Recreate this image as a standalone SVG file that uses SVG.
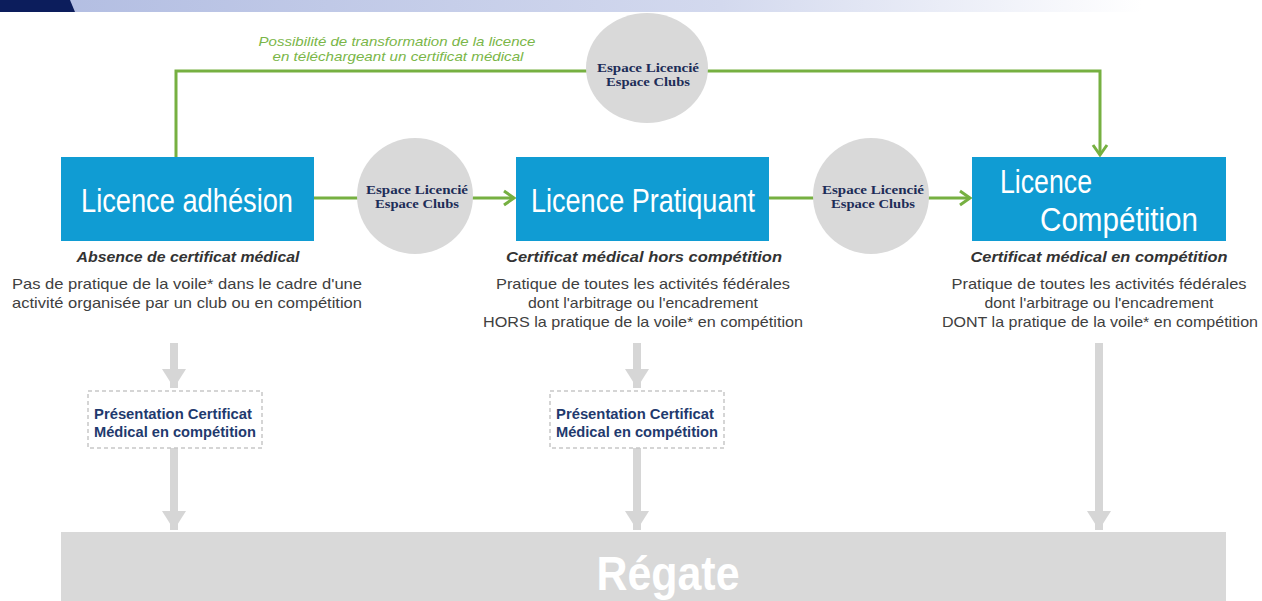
<svg xmlns="http://www.w3.org/2000/svg" width="1262" height="601" viewBox="0 0 1262 601">
<defs>
<linearGradient id="hdr" x1="0" y1="0" x2="1" y2="0">
<stop offset="0" stop-color="#b3bee2"/>
<stop offset="0.55" stop-color="#d3d9ee"/>
<stop offset="0.9" stop-color="#ffffff"/>
</linearGradient>
<marker id="ga" markerUnits="userSpaceOnUse" markerWidth="16" markerHeight="18" refX="12" refY="9" orient="auto">
<path d="M2,2 L12,9 L2,16" fill="none" stroke="#76b041" stroke-width="3"/>
</marker>
<marker id="gr" markerUnits="userSpaceOnUse" markerWidth="20" markerHeight="24" refX="19" refY="12" orient="auto">
<path d="M0,0 L19,12 L0,24 z" fill="#d6d6d6"/>
</marker>
<style>
.box{fill:#109cd3}
.bt{font-family:"Liberation Sans",Arial,sans-serif;fill:#ffffff;font-size:33px}
.circ{fill:#d9d9d9}
.ct{font-family:"Liberation Serif","Times New Roman",serif;font-weight:bold;font-size:13px;fill:#1d2d58;text-anchor:middle}
.sub{font-family:"Liberation Sans",Arial,sans-serif;font-weight:bold;font-style:italic;font-size:15px;fill:#333333;text-anchor:middle}
.desc{font-family:"Liberation Sans",Arial,sans-serif;font-size:15px;fill:#404040;text-anchor:middle}
.cap{font-family:"Liberation Sans",Arial,sans-serif;font-style:italic;font-size:13px;fill:#7ab648;text-anchor:middle}
.green{fill:none;stroke:#76b041;stroke-width:3}
.gray{fill:none;stroke:#d6d6d6;stroke-width:8}
.dash{fill:#ffffff;stroke:#c8c8c8;stroke-width:1.5;stroke-dasharray:4 3}
.dt{font-family:"Liberation Sans",Arial,sans-serif;font-weight:bold;font-size:14px;fill:#1f3a6e}
.reg{fill:#d9d9d9}
.rt{font-family:"Liberation Sans",Arial,sans-serif;font-weight:bold;font-size:48px;fill:#ffffff;text-anchor:middle}
</style>
</defs>
<rect width="1262" height="601" fill="#ffffff"/>
<g id="header">
<rect x="60" y="0" width="1202" height="12" fill="url(#hdr)"/>
<polygon points="0,0 70,0 75,12 0,12" fill="#0c1d5c"/>
</g>
<g id="connectors">
<polyline class="green" points="176,157 176,71 1100,71 1100,155" marker-end="url(#ga)"/>
<line class="green" x1="314" y1="198" x2="514" y2="198" marker-end="url(#ga)"/>
<line class="green" x1="769" y1="198" x2="970" y2="198" marker-end="url(#ga)"/>
<line class="gray" x1="174" y1="343" x2="174" y2="388" marker-end="url(#gr)"/>
<line class="gray" x1="174" y1="448" x2="174" y2="530" marker-end="url(#gr)"/>
<line class="gray" x1="637" y1="343" x2="637" y2="388" marker-end="url(#gr)"/>
<line class="gray" x1="637" y1="448" x2="637" y2="530" marker-end="url(#gr)"/>
<line class="gray" x1="1099" y1="343" x2="1099" y2="530" marker-end="url(#gr)"/>
</g>
<g id="caption">
<text class="cap" x="397" y="46" textLength="277" lengthAdjust="spacingAndGlyphs">Possibilité de transformation de la licence</text>
<text class="cap" x="398" y="61" textLength="251" lengthAdjust="spacingAndGlyphs">en téléchargeant un certificat médical</text>
</g>
<g id="espace-top">
<ellipse class="circ" cx="647" cy="68" rx="61" ry="55"/>
<text class="ct" x="648" y="72" textLength="102" lengthAdjust="spacingAndGlyphs">Espace Licencié</text>
<text class="ct" x="648" y="86" textLength="84" lengthAdjust="spacingAndGlyphs">Espace Clubs</text>
</g>
<g id="espace-1">
<circle class="circ" cx="415" cy="196" r="58"/>
<text class="ct" x="417" y="194" textLength="102" lengthAdjust="spacingAndGlyphs">Espace Licencié</text>
<text class="ct" x="417" y="208" textLength="84" lengthAdjust="spacingAndGlyphs">Espace Clubs</text>
</g>
<g id="espace-2">
<circle class="circ" cx="871" cy="196" r="58"/>
<text class="ct" x="873" y="194" textLength="102" lengthAdjust="spacingAndGlyphs">Espace Licencié</text>
<text class="ct" x="873" y="208" textLength="84" lengthAdjust="spacingAndGlyphs">Espace Clubs</text>
</g>
<g id="licence-adhesion">
<rect class="box" x="61" y="157" width="253" height="84"/>
<text class="bt" x="187" y="212" text-anchor="middle" textLength="212" lengthAdjust="spacingAndGlyphs">Licence adhésion</text>
<text class="sub" x="188" y="262" textLength="223" lengthAdjust="spacingAndGlyphs">Absence de certificat médical</text>
<text class="desc" x="187" y="289" textLength="350" lengthAdjust="spacingAndGlyphs">Pas de pratique de la voile* dans le cadre d'une</text>
<text class="desc" x="187" y="308" textLength="350" lengthAdjust="spacingAndGlyphs">activité organisée par un club ou en compétition</text>
</g>
<g id="licence-pratiquant">
<rect class="box" x="516" y="157" width="253" height="84"/>
<text class="bt" x="643" y="212" text-anchor="middle" textLength="224" lengthAdjust="spacingAndGlyphs">Licence Pratiquant</text>
<text class="sub" x="644" y="262" textLength="276" lengthAdjust="spacingAndGlyphs">Certificat médical hors compétition</text>
<text class="desc" x="643" y="289" textLength="294" lengthAdjust="spacingAndGlyphs">Pratique de toutes les activités fédérales</text>
<text class="desc" x="643" y="308" textLength="230" lengthAdjust="spacingAndGlyphs">dont l'arbitrage ou l'encadrement</text>
<text class="desc" x="643" y="327" textLength="320" lengthAdjust="spacingAndGlyphs">HORS la pratique de la voile* en compétition</text>
</g>
<g id="licence-competition">
<rect class="box" x="972" y="157" width="254" height="84"/>
<text class="bt" x="1000" y="193" textLength="92" lengthAdjust="spacingAndGlyphs">Licence</text>
<text class="bt" x="1040" y="231" textLength="158" lengthAdjust="spacingAndGlyphs">Compétition</text>
<text class="sub" x="1099" y="262" textLength="257" lengthAdjust="spacingAndGlyphs">Certificat médical en compétition</text>
<text class="desc" x="1099" y="289" textLength="295" lengthAdjust="spacingAndGlyphs">Pratique de toutes les activités fédérales</text>
<text class="desc" x="1099" y="308" textLength="229" lengthAdjust="spacingAndGlyphs">dont l'arbitrage ou l'encadrement</text>
<text class="desc" x="1100" y="327" textLength="316" lengthAdjust="spacingAndGlyphs">DONT la pratique de la voile* en compétition</text>
</g>
<g id="certificat-1">
<rect class="dash" x="88" y="391" width="174" height="57"/>
<text class="dt" x="94" y="419" textLength="158" lengthAdjust="spacingAndGlyphs">Présentation Certificat</text>
<text class="dt" x="94" y="437" textLength="162" lengthAdjust="spacingAndGlyphs">Médical en compétition</text>
</g>
<g id="certificat-2">
<rect class="dash" x="550" y="391" width="174" height="57"/>
<text class="dt" x="556" y="419" textLength="158" lengthAdjust="spacingAndGlyphs">Présentation Certificat</text>
<text class="dt" x="556" y="437" textLength="162" lengthAdjust="spacingAndGlyphs">Médical en compétition</text>
</g>
<g id="regate">
<rect class="reg" x="61" y="532" width="1165" height="69"/>
<text class="rt" x="668" y="590" textLength="143" lengthAdjust="spacingAndGlyphs">Régate</text>
</g>
</svg>
